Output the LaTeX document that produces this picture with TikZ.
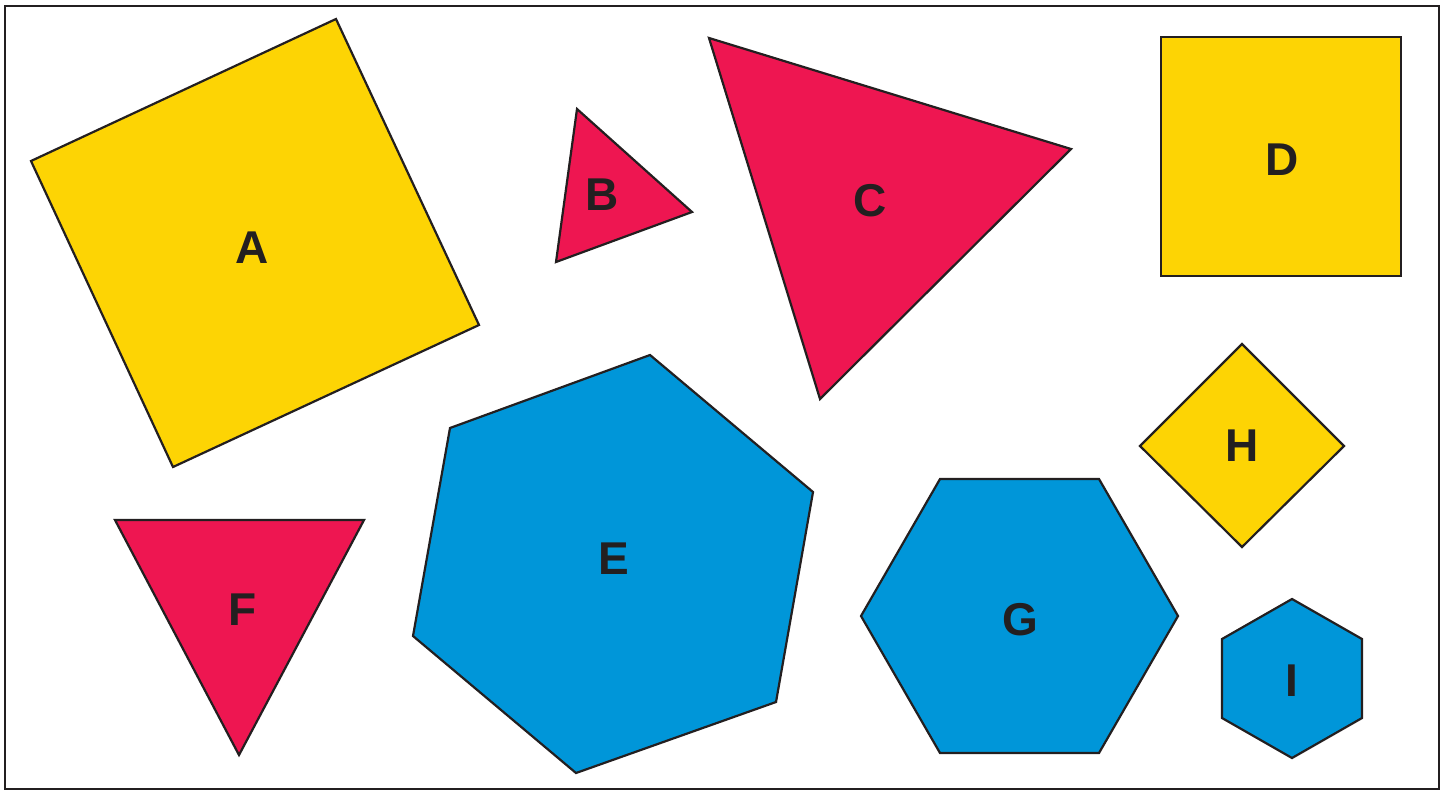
\documentclass[tikz,border=0pt]{standalone}
\usepackage{fontspec}
\setmainfont{Liberation Sans}
\usepackage{xcolor}
\definecolor{ink}{HTML}{231F20}
\definecolor{shapeyellow}{HTML}{FDD404}
\definecolor{shapered}{HTML}{EE1651}
\definecolor{shapeblue}{HTML}{0096D9}
\tikzset{
  yellowpoly/.style={draw=ink,fill=shapeyellow,line width=1.1pt,line join=miter},
  redpoly/.style={draw=ink,fill=shapered,line width=1.1pt,line join=miter},
  bluepoly/.style={draw=ink,fill=shapeblue,line width=1.1pt,line join=miter},
  shapelabel/.style={text=ink,font=\fontsize{23}{23}\selectfont\bfseries,inner sep=0pt}
}
\begin{document}
\begin{tikzpicture}[x=0.5pt,y=-0.5pt]
  \useasboundingbox (0,0) rectangle (1443,792);
  \draw[ink,line width=1.4pt] (5,6) rectangle (1439,789);
  % yellow
  \draw[yellowpoly] (31,161) -- (336,19) -- (479,325) -- (173,467) -- cycle;
  \node[shapelabel] (labA) at (252,248) {A};
  \draw[yellowpoly] (1161,37) rectangle (1401,276);
  \node[shapelabel] (labD) at (1282,160) {D};
  \draw[yellowpoly] (1242,344) -- (1344,446) -- (1242,547) -- (1140,446) -- cycle;
  \node[shapelabel] (labH) at (1242,446) {H};
  % red
  \draw[redpoly] (577,109) -- (692,212) -- (556,262) -- cycle;
  \node[shapelabel] (labB) at (602,195) {B};
  \draw[redpoly] (709,38) -- (1071,149) -- (820,399) -- cycle;
  \node[shapelabel] (labC) at (870,201) {C};
  \draw[redpoly] (115,520) -- (364,520) -- (239,755) -- cycle;
  \node[shapelabel] (labF) at (243,610) {F};
  % blue
  \draw[bluepoly] (450,428) -- (650,355) -- (813,492) -- (776,702) -- (576,773) -- (413,636) -- cycle;
  \node[shapelabel] (labE) at (614,559) {E};
  \draw[bluepoly] (940,479) -- (1099,479) -- (1178,616) -- (1099,753) -- (940,753) -- (861,616) -- cycle;
  \node[shapelabel] (labG) at (1020,620) {G};
  \draw[bluepoly] (1292,599) -- (1362,639) -- (1362,718) -- (1292,758) -- (1222,718) -- (1222,639) -- cycle;
  \node[shapelabel] (labI) at (1292,681) {I};
\end{tikzpicture}
\end{document}
